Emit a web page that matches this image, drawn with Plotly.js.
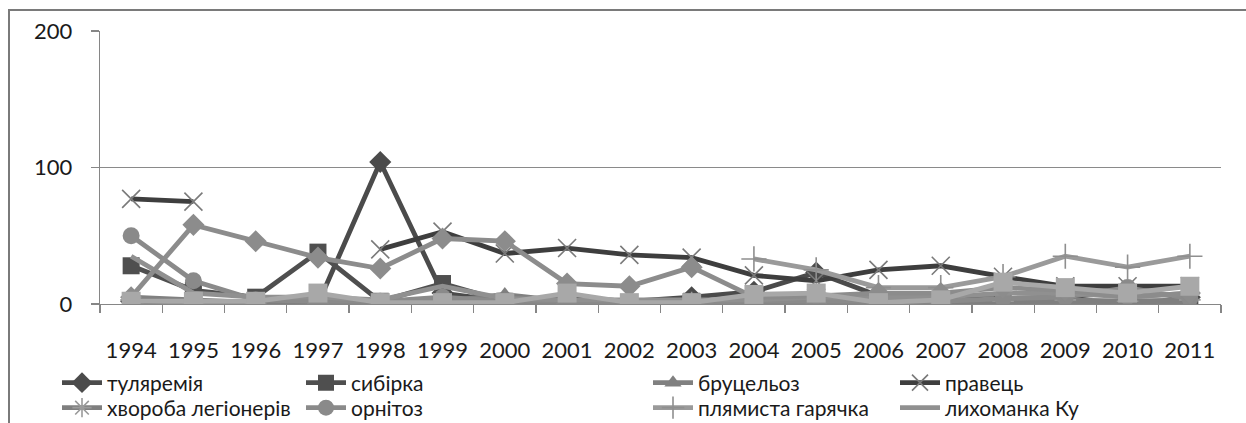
<!DOCTYPE html>
<html>
<head>
<meta charset="utf-8">
<script src="https://cdn.plot.ly/plotly-3.0.1.min.js"></script>
<style>
html,body{margin:0;padding:0;background:#fff;overflow:hidden;}
#wrap{position:relative;width:1246px;height:423px;overflow:hidden;}
#chart{width:1246px;height:423px;}
#frame{position:absolute;left:8px;top:9px;width:1400px;height:600px;border-left:2px solid #7a7a7a;border-top:2px solid #7a7a7a;pointer-events:none;z-index:10;}
</style>
</head>
<body>
<div id="wrap"><div id="chart"></div><div id="frame"></div></div>
<script>
const years = ["1994","1995","1996","1997","1998","1999","2000","2001","2002","2003","2004","2005","2006","2007","2008","2009","2010","2011"];
const tularemia = [2,1,2,0,104,8,2,5,2,5,9,23,6,4,4,5,9,5];
const sybirka = [28,10,5,38,2,15,2,3,1,2,1,0,0,0,1,0,0,0];
const brucelioz = [5,3,1,0,1,2,7,2,1,1,1,1,2,1,1,1,1,1];
const pravets = [77,75,null,null,40,53,37,41,36,34,21,17,25,28,20,13,13,13];
const legionery = [3,1,0,1,0,1,0,1,0,1,2,1,0,1,2,3,2,3];
const ornitoz = [50,17,3,2,2,5,2,2,1,1,2,2,2,2,4,5,12,4];
const plyamysta = [null,null,null,null,null,null,null,null,null,null,33,25,12,12,20,35,27,35];
const lykhomankaKu = [35,8,5,5,3,13,4,3,3,3,3,5,5,5,8,8,5,8];
const series9 = [5,58,46,34,26,48,46,15,13,27,5,6,8,8,12,10,5,8];
const series10 = [2,2,2,8,1,1,1,8,1,1,7,8,1,3,16,12,8,13];

const names = ["туляремія","сибірка","бруцельоз","правець","хвороба легіонерів","орнітоз","плямиста гарячка","лихоманка Ку","ряд 9","ряд 10"];

function tr(y, name, color, symbol, size, legend, extra) {
  const t = {
    x: years, y: y, name: name, type: 'scatter', mode: 'lines+markers',
    line: {color: color, width: 4.8}, connectgaps: false,
    marker: {symbol: symbol, size: size, color: color},
    legend: legend, hoverinfo: 'skip'
  };
  return Object.assign(t, extra || {});
}
const openMk = (c) => ({line: {color: c, width: 1.6}});

const traces = [
  tr(tularemia, names[0], '#4b4b4b', 'diamond', 17, 'legend'),
  tr(sybirka, names[1], '#4f4f4f', 'square', 17, 'legend2'),
  tr(brucelioz, names[2], '#808080', 'triangle-up', 15, 'legend3'),
  tr(pravets, names[3], '#3e3e3e', 'x-thin', 18, 'legend4', {marker: Object.assign({symbol:'x-thin', size:18, color:'#7a7a7a'}, openMk('#7a7a7a'))}),
  tr(legionery, names[4], '#7f7f7f', 'asterisk', 18, 'legend5', {marker: Object.assign({symbol:'asterisk', size:18, color:'#9a9a9a'}, openMk('#9a9a9a'))}),
  tr(ornitoz, names[5], '#8a8a8a', 'circle', 17, 'legend6'),
  tr(plyamysta, names[6], '#9a9a9a', 'cross-thin', 18, 'legend7', {marker: Object.assign({symbol:'cross-thin', size:18, color:'#8f8f8f'}, openMk('#8f8f8f'))}),
  tr(lykhomankaKu, names[7], '#909090', 'line-ew', 10, 'legend8', {mode: 'lines'}),
  tr(series9, names[8], '#8c8c8c', 'diamond', 17, 'legend', {showlegend: false}),
  tr(series10, names[9], '#a8a8a8', 'square', 19, 'legend', {showlegend: false})
];

const W = 1246, H = 423;
const FONT = 'Lato, "Open Sans", sans-serif';
const legFont = {family: FONT, size: 21, color: '#1a1a1a'};
function leg(px, py) {
  return {x: px / W, y: 1 - py / H, xref: 'container', yref: 'container', xanchor: 'left', yanchor: 'middle',
          orientation: 'v', font: legFont, bgcolor: 'rgba(0,0,0,0)', borderwidth: 0, itemwidth: 40,
          tracegroupgap: 0};
}

const layout = {
  width: W, height: H,
  margin: {l: 100, r: 25, t: 31, b: 119, pad: 0, autoexpand: false},
  paper_bgcolor: '#fff', plot_bgcolor: '#fff',
  font: {family: FONT, size: 22, color: '#1a1a1a'},
  xaxis: {
    type: 'category', range: [-0.5, 17.5], showgrid: false, zeroline: false,
    showline: true, linecolor: '#868686', linewidth: 1.3,
    ticks: 'outside', tickson: 'boundaries', ticklen: 8, tickcolor: '#868686', tickwidth: 1.3,
    tickfont: {family: FONT, size: 22, color: '#1a1a1a'}, tickangle: 0, automargin: false,
    ticklabelstandoff: 26, fixedrange: true
  },
  yaxis: {
    range: [0, 200], tickvals: [0, 100, 200], ticktext: ['0', '100', '200'],
    showgrid: true, gridcolor: '#8a8a8a', gridwidth: 1.3, zeroline: false,
    showline: true, linecolor: '#868686', linewidth: 1.3,
    ticks: 'outside', ticklen: 8, tickcolor: '#868686', tickwidth: 1.3,
    tickfont: {family: FONT, size: 22, color: '#1a1a1a'}, automargin: false,
    ticklabelstandoff: 14, fixedrange: true
  },
  legend: leg(57, 383),
  legend2: leg(301, 383),
  legend3: leg(648, 383),
  legend4: leg(895, 383),
  legend5: leg(57, 408),
  legend6: leg(301, 408),
  legend7: leg(648, 408),
  legend8: leg(895, 408),
  showlegend: true
};

Plotly.newPlot('chart', traces, layout, {displayModeBar: false, staticPlot: true});
</script>
</body>
</html>
